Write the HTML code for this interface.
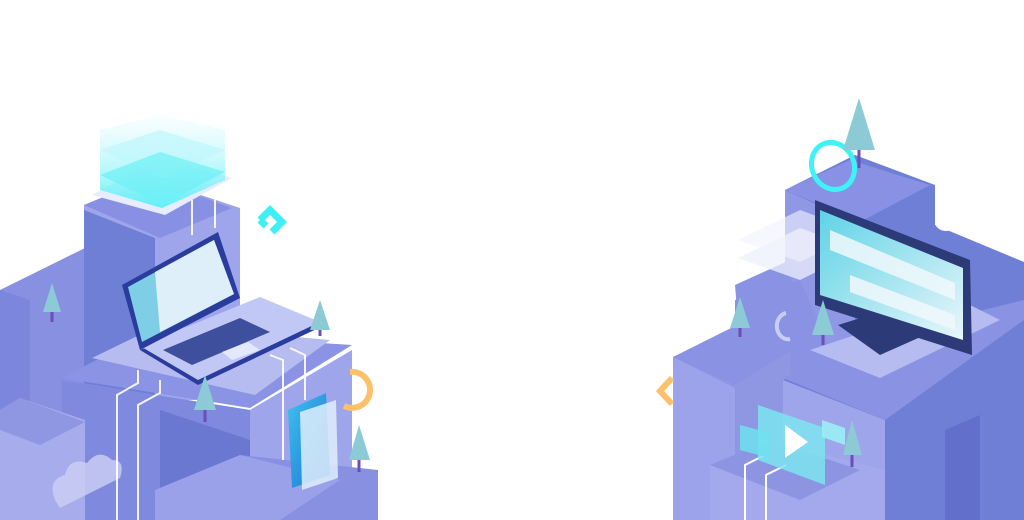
<!DOCTYPE html>
<html><head><meta charset="utf-8"><style>
html,body{margin:0;padding:0;background:#fff;width:1024px;height:520px;overflow:hidden}
svg{display:block}
</style></head><body>
<svg width="1024" height="520" viewBox="0 0 1024 520" xmlns="http://www.w3.org/2000/svg">
<defs>
<linearGradient id="cy" x1="0" y1="0" x2="0" y2="1"><stop offset="0" stop-color="#e8fbff" stop-opacity="0.3"/><stop offset="1" stop-color="#4ff0f5"/></linearGradient>
<linearGradient id="scr" x1="0" y1="0" x2="1" y2="1"><stop offset="0" stop-color="#5fd3e6"/><stop offset="1" stop-color="#e9f6fb"/></linearGradient>
<linearGradient id="tab" x1="0" y1="0" x2="1" y2="1"><stop offset="0" stop-color="#3fc3f0"/><stop offset="1" stop-color="#1a6fd0"/></linearGradient>
</defs>

<!-- LEFT SIDE -->
<polygon points="0,290 85,248 85,520 0,520" fill="#8890e2"/>
<polygon points="0,290 30,300 30,520 0,520" fill="#7c86dc"/>
<polygon points="84,205 150,178 240,208 240,400 84,400" fill="#9ea5ea"/>
<polygon points="84,210 155,238 155,400 84,400" fill="#6f7fd6"/>
<polygon points="84,205 150,178 232,208 160,238" fill="#8790e2"/>
<polygon points="62,380 62,520 352,520 352,350 250,410" fill="#9ea5ea"/>
<polygon points="62,380 250,410 250,520 62,520" fill="#7f89dd"/>
<polygon points="160,410 250,440 250,520 160,520" fill="#6a78d2"/>
<polygon points="62,378 150,332 352,345 250,408" fill="#8b93e4"/>
<polygon points="92,358 160,325 330,340 255,395" fill="#b6bcf0"/>
<polygon points="0,410 20,398 85,420 85,520 0,520" fill="#a6acec"/>
<polygon points="0,410 20,398 85,422 40,445 0,430" fill="#8f97e3"/>
<path d="M55,500 q-8,-20 10,-25 q4,-18 22,-12 q12,-15 25,-3 q14,0 8,18 l-60,30 z" fill="#c9cdf5" opacity="0.85"/>
<polygon points="155,490 240,455 378,470 378,520 155,520" fill="#8890e2"/>
<polygon points="155,490 240,455 340,480 280,520 155,520" fill="#9aa1e8"/>
<g stroke="#fff" stroke-width="2" fill="none" opacity="0.9">
<polyline points="117,520 117,395 138,383 138,370"/>
<polyline points="138,520 138,405 160,393 160,380"/>
<polyline points="192,235 192,200"/>
<polyline points="215,228 215,190"/>
<polyline points="270,355 283,360 283,460"/>
<polyline points="290,348 305,355 305,400"/>
</g>
<polygon points="92,195 165,215 232,178 160,158" fill="#e8ecff"/>
<polygon points="100,130 160,115 225,130 225,180 162,208 100,190" fill="url(#cy)" opacity="0.9"/>
<polygon points="100,150 160,130 225,150 162,178" fill="#bff7fb" opacity="0.7"/>
<polygon points="100,175 160,152 225,172 162,205" fill="#6cf1f5" opacity="0.7"/>
<polygon points="140,350 262,300 325,325 198,385" fill="#2a3c9c"/>
<polygon points="140,346 260,297 320,322 198,380" fill="#c1c8f6"/>
<polygon points="163,350 240,318 270,332 192,365" fill="#3e4f9e"/>
<polygon points="222,352 248,342 260,350 232,360" fill="#e4e8fb"/>
<polygon points="122,285 218,232 240,298 140,350" fill="#2a3c9c"/>
<polygon points="128,287 214,240 234,294 142,342" fill="#7ecfe6"/>
<polygon points="155,272 214,240 234,294 160,332" fill="#eef4fb" opacity="0.85"/>
<path d="M260,220 l10,-10 l12,12 l-10,10 M260,220 l6,6" stroke="#3ef0f5" stroke-width="7" fill="none"/>
<path d="M350,372 a18,18 0 1 1 -6,34" stroke="#ffc06a" stroke-width="6" fill="none"/>
<polygon points="288,410 326,393 330,475 292,488" fill="url(#tab)"/>
<polygon points="300,412 336,400 338,478 302,490" fill="#dfeffc" opacity="0.85"/>
<g>
<line x1="52" y1="305" x2="52" y2="322" stroke="#6a4fb8" stroke-width="3"/><polygon points="52,283 43,312 61,312" fill="#8ccbd6"/>
<line x1="205" y1="400" x2="205" y2="422" stroke="#6a4fb8" stroke-width="3"/><polygon points="205,375 194,410 216,410" fill="#8ccbd6"/>
<line x1="320" y1="320" x2="320" y2="336" stroke="#6a4fb8" stroke-width="3"/><polygon points="320,300 310,330 330,330" fill="#8ccbd6"/>
<line x1="359" y1="450" x2="359" y2="472" stroke="#6a4fb8" stroke-width="3"/><polygon points="359,425 349,460 370,460" fill="#8ccbd6"/>
</g>

<!-- RIGHT SIDE -->
<polygon points="935,225 1024,262 1024,520 935,520" fill="#6f7fd6"/>
<polygon points="785,190 785,360 935,360 935,185 855,155" fill="#6f7fd6"/>
<polygon points="785,190 855,222 855,360 785,360" fill="#8f98e4"/>
<polygon points="785,190 850,160 930,185 860,222" fill="#8891e3"/>
<polygon points="735,300 800,280 840,370 783,395 735,400" fill="#8a92e3"/>
<polygon points="673,357 673,520 790,520 790,350" fill="#8f97e3"/>
<polygon points="673,357 735,388 735,520 673,520" fill="#9ca3ea"/>
<polygon points="673,357 735,326 792,350 735,385" fill="#8a92e3"/>
<polygon points="735,285 790,260 795,345 740,350" fill="#8a92e3"/>
<path d="M786,313 a11,13 0 1 0 4,26" stroke="#c8cdf5" stroke-width="4" fill="none"/>
<polygon points="783,380 1024,280 1024,520 783,520" fill="#6f7fd6"/>
<polygon points="783,380 885,420 885,520 783,520" fill="#9ea5ea"/>
<polygon points="783,378 880,335 1024,300 1024,320 885,420" fill="#8a92e3"/>
<polygon points="810,350 960,300 1000,320 880,378" fill="#b6bcf0"/>
<polygon points="945,430 980,415 980,520 945,520" fill="#6270cc"/>
<polygon points="710,465 770,440 885,470 885,520 710,520" fill="#a3a9ec"/>
<polygon points="710,465 770,440 860,470 800,500" fill="#8d95e3"/>
<g stroke="#fff" stroke-width="2" fill="none">
<polyline points="745,520 745,465 765,455"/>
<polyline points="766,520 766,475 786,465"/>
</g>
<polygon points="738,258 800,228 860,250 800,280" fill="#eef0fc" opacity="0.75"/>
<polygon points="738,240 800,210 860,232 800,262" fill="#f2f3fd" opacity="0.6"/>
<polygon points="838,325 880,312 925,335 880,355" fill="#2c3b78"/>
<polygon points="815,200 970,260 972,355 815,305" fill="#2c3b78"/>
<polygon points="820,210 963,268 963,340 820,295" fill="url(#scr)"/>
<polygon points="830,230 955,283 955,300 830,250" fill="#f0f8fc" opacity="0.85"/>
<polygon points="850,275 955,315 955,330 850,292" fill="#f0f8fc" opacity="0.85"/>
<polygon points="758,405 825,428 825,485 758,460" fill="#7ce4f0" opacity="0.85"/>
<polygon points="740,425 770,433 770,458 740,450" fill="#6fe0ee" opacity="0.85"/>
<polygon points="822,420 845,428 845,445 822,437" fill="#9aeef5" opacity="0.9"/>
<polygon points="785,425 785,458 808,442" fill="#fff"/>
<ellipse cx="833" cy="166" rx="21" ry="24" transform="rotate(-25 833 166)" stroke="#3ff2f5" stroke-width="5" fill="none"/>
<path d="M672,378 l-12,13 l12,13" stroke="#ffc06a" stroke-width="6" fill="none"/>
<path d="M937,222 a9,7 0 0 0 18,0" stroke="#fff" stroke-width="4" fill="none"/>
<line x1="859" y1="145" x2="859" y2="168" stroke="#6a4fb8" stroke-width="3"/><polygon points="859,98 843,150 875,150" fill="#8ccbd6"/>
<line x1="740" y1="320" x2="740" y2="337" stroke="#6a4fb8" stroke-width="3"/><polygon points="740,297 730,328 750,328" fill="#8ccbd6"/>
<line x1="823" y1="328" x2="823" y2="345" stroke="#6a4fb8" stroke-width="3"/><polygon points="823,300 812,335 834,335" fill="#8ccbd6"/>
<line x1="852" y1="450" x2="852" y2="467" stroke="#6a4fb8" stroke-width="3"/><polygon points="852,420 843,455 862,455" fill="#8ccbd6"/>
</svg>
</body></html>
